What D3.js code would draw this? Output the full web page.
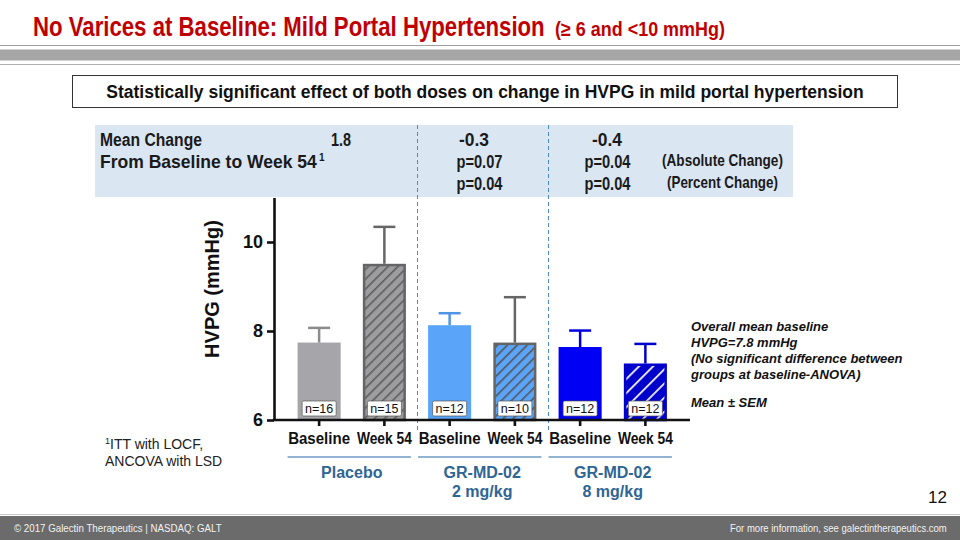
<!DOCTYPE html>
<html>
<head>
<meta charset="utf-8">
<script src="https://cdn.jsdelivr.net/npm/d3@7"></script>
<style>
  html, body { margin: 0; padding: 0; background: #fff; }
  svg { display: block; }
</style>
</head>
<body>
<svg id="chart" width="960" height="540"></svg>
<script>
// ---------------- DATA ----------------
const barIds      = ["pb", "pw", "2b", "2w", "8b", "8w"];
const barLabels   = ["Baseline", "Week 54", "Baseline", "Week 54", "Baseline", "Week 54"];
const barMeans    = [7.74, 9.51, 8.13, 7.74, 7.64, 7.27];
const barSems     = [0.33, 0.83, 0.27, 1.02, 0.37, 0.44];
const barN        = [16, 15, 12, 10, 12, 12];
const groupNames  = [["Placebo"], ["GR-MD-02", "2 mg/kg"], ["GR-MD-02", "8 mg/kg"]];
const yTickValues = [6, 8, 10];
const meanChange  = ["1.8", "-0.3", "-0.4"];
const pAbsolute   = ["", "p=0.07", "p=0.04"];
const pPercent    = ["", "p=0.04", "p=0.04"];
const notes       = ["Overall mean baseline", "HVPG=7.8 mmHg", "(No significant difference between", "groups at baseline-ANOVA)"];

// ---------------- STYLES ----------------
const barStyles = [
  { fill: "#a6a6aa", stroke: "none", err: "#8c8c8c" },
  { fill: "url(#hatchGray)", stroke: "#656565", err: "#666666" },
  { fill: "#5aa5fa", stroke: "none", err: "#4f95e6" },
  { fill: "url(#hatchLightBlue)", stroke: "#656565", err: "#666666" },
  { fill: "#0000f5", stroke: "none", err: "#0000e0" },
  { fill: "url(#hatchBlue)", stroke: "#0000cc", err: "#0000cc" }
];
const arial = "'Liberation Sans', Arial, Helvetica, sans-serif";

const svg = d3.select("#chart");
const defs = svg.append("defs");

// condensed text: draw at (x,y) then squeeze horizontally to width w
function ctext(parent, x, y, str, w, style, anchor) {
  const t = parent.append("text").attr("x", 0).attr("y", 0).attr("text-anchor", "start")
    .call(style).text(str);
  const n = t.node().getComputedTextLength();
  const s = w / n;
  let x0 = x;
  if (anchor === "middle") x0 = x - w / 2;
  if (anchor === "end") x0 = x - w;
  t.attr("transform", `translate(${x0},${y}) scale(${s},1)`);
  return t;
}

function hatch(id, bg, fg, spacing, w) {
  const p = defs.append("pattern").attr("id", id)
    .attr("patternUnits", "userSpaceOnUse")
    .attr("width", spacing).attr("height", spacing)
    .attr("patternTransform", "rotate(45)");
  p.append("rect").attr("width", spacing).attr("height", spacing).attr("fill", bg);
  p.append("line").attr("x1", 0).attr("y1", 0).attr("x2", 0).attr("y2", spacing)
    .attr("stroke", fg).attr("stroke-width", w);
}
hatch("hatchGray", "#9d9da0", "#5e5e5e", 7, 3.2);
hatch("hatchLightBlue", "#5aa5fa", "#555555", 7, 3.2);
hatch("hatchBlue", "#0000cc", "#ffffff", 10, 3.4);

// ---------------- HEADER ----------------
const titleStyle = fs => sel => sel.attr("font-family", arial).attr("font-weight", "bold")
  .attr("font-size", fs).attr("fill", "#c00000");
ctext(svg, 33, 36, "No Varices at Baseline: Mild Portal Hypertension", 512, titleStyle(28));
ctext(svg, 555, 36, "(\u2265 6 and <10 mmHg)", 170, titleStyle(20));

svg.append("line").attr("x1", 0).attr("x2", 960).attr("y1", 45.5).attr("y2", 45.5)
  .attr("stroke", "#a0a0a0").attr("stroke-width", 1);
svg.append("rect").attr("x", 0).attr("y", 49.5).attr("width", 960).attr("height", 11)
  .attr("fill", "#a6a6a6");
svg.append("line").attr("x1", 0).attr("x2", 960).attr("y1", 64.5).attr("y2", 64.5)
  .attr("stroke", "#b0b0b0").attr("stroke-width", 1);

// boxed subtitle
svg.append("rect").attr("x", 72.5).attr("y", 75.5).attr("width", 825).attr("height", 32)
  .attr("fill", "#fff").attr("stroke", "#333").attr("stroke-width", 1);
svg.append("text").attr("x", 485).attr("y", 97.5).attr("text-anchor", "middle")
  .attr("font-family", arial).attr("font-weight", "bold").attr("font-size", 17.5)
  .attr("fill", "#111")
  .text("Statistically significant effect of both doses on change in HVPG in mild portal hypertension");

// ---------------- SCALES ----------------
const y = d3.scaleLinear().domain([6, 11]).range([420, 197.5]);
const x = d3.scaleBand().domain(barIds).range([286.5, 678]).paddingInner(0.34).paddingOuter(0.17);
const bw = x.bandwidth();
const cx = id => x(id) + bw / 2;

// stats box
svg.append("rect").attr("x", 95).attr("y", 125).attr("width", 698).attr("height", 72)
  .attr("fill", "#dae6f2");
const statFont = fs => sel => sel.attr("font-family", arial).attr("font-weight", "bold")
  .attr("font-size", fs).attr("fill", "#1a1a1a");
ctext(svg, 100, 146, "Mean Change", 102, statFont(18));
ctext(svg, 100, 168, "From Baseline to Week 54", 217, statFont(18));
svg.append("text").attr("x", 319).attr("y", 161).call(statFont(10)).text("1");

const statX = [341, 474, 607];
const pX = [0, 479.5, 607.5];
const widthOf = s => s.length <= 3 ? 20 : s.length === 4 ? 30 : 46;
meanChange.forEach((v, i) => ctext(svg, statX[i], 146, v, widthOf(v), statFont(18), "middle"));
pAbsolute.forEach((v, i) => { if (v) ctext(svg, pX[i], 168, v, 46, statFont(18), "middle"); });
pPercent.forEach((v, i) => { if (v) ctext(svg, pX[i], 190, v, 46, statFont(18), "middle"); });
ctext(svg, 662, 166, "(Absolute Change)", 121, statFont(16));
ctext(svg, 667, 188, "(Percent Change)", 111, statFont(16));

// dashed group separators
[[1, 2], [3, 4]].forEach(([a, b]) => {
  const xm = Math.round((x(barIds[a]) + bw + x(barIds[b])) / 2) + 0.5;
  svg.append("line").attr("x1", xm).attr("x2", xm).attr("y1", 125).attr("y2", 430)
    .attr("stroke", "#4a8cc8").attr("stroke-width", 1).attr("stroke-dasharray", "4,3");
});

// ---------------- BARS ----------------
const g = svg.append("g");
barIds.forEach((id, i) => {
  const st = barStyles[i];
  const inset = st.stroke === "none" ? 0 : 1.25;
  g.append("rect")
    .attr("x", x(id) + inset).attr("width", bw - 2 * inset)
    .attr("y", y(barMeans[i]) + inset).attr("height", y(6) - y(barMeans[i]) - inset)
    .attr("fill", st.fill)
    .attr("stroke", st.stroke).attr("stroke-width", st.stroke === "none" ? 0 : 2.5);
  const top = y(barMeans[i] + barSems[i]);
  g.append("line").attr("x1", cx(id)).attr("x2", cx(id))
    .attr("y1", y(barMeans[i])).attr("y2", top)
    .attr("stroke", st.err).attr("stroke-width", 2.5);
  g.append("line").attr("x1", cx(id) - 11).attr("x2", cx(id) + 11)
    .attr("y1", top).attr("y2", top)
    .attr("stroke", st.err).attr("stroke-width", 2.5);
  g.append("rect").attr("x", cx(id) - 17).attr("y", 401).attr("width", 34).attr("height", 15)
    .attr("rx", 1.5).attr("fill", "#fff").attr("stroke", "#555").attr("stroke-width", 0.7);
  g.append("text").attr("x", cx(id)).attr("y", 413).attr("text-anchor", "middle")
    .attr("font-family", arial).attr("font-size", 12.5).attr("fill", "#111")
    .text("n=" + barN[i]);
});

// ---------------- AXES ----------------
const yAxis = svg.append("g").attr("transform", "translate(274,0)")
  .call(d3.axisLeft(y).tickValues(yTickValues).tickSize(7).tickSizeOuter(0).tickPadding(4).tickFormat(d3.format("d")));
yAxis.selectAll("path, line").attr("stroke", "#111").attr("stroke-width", 2.6);
yAxis.selectAll("text").attr("font-family", arial).attr("font-weight", "bold")
  .attr("font-size", 18).attr("fill", "#111");

const xAxis = svg.append("g").attr("transform", "translate(0,420)")
  .call(d3.axisBottom(x).tickSize(6).tickSizeOuter(0).tickFormat(() => ""));
xAxis.select(".domain").remove();
xAxis.selectAll("text").remove();
xAxis.selectAll("line").attr("stroke", "#111").attr("stroke-width", 2.6);
xAxis.selectAll(".tick").each(function(d, i) {
  ctext(d3.select(this), 0, 24, barLabels[i], barLabels[i] === "Baseline" ? 62 : 55,
    sel => sel.attr("font-family", arial).attr("font-weight", "bold").attr("font-size", 17).attr("fill", "#111"),
    "middle");
});
svg.append("line").attr("x1", 272.7).attr("x2", 690).attr("y1", 420).attr("y2", 420)
  .attr("stroke", "#111").attr("stroke-width", 2.6);

svg.append("text").attr("transform", "translate(219,289) rotate(-90)")
  .attr("text-anchor", "middle").attr("font-family", arial).attr("font-weight", "bold")
  .attr("font-size", 20).attr("fill", "#111").text("HVPG (mmHg)");

// group lines and labels
groupNames.forEach((lines, i) => {
  const a = x(barIds[2 * i]), b = x(barIds[2 * i + 1]) + bw;
  svg.append("line").attr("x1", a - 10).attr("x2", b + 5).attr("y1", 457).attr("y2", 457)
    .attr("stroke", "#6d9bc3").attr("stroke-width", 1.6);
  lines.forEach((t, k) => {
    svg.append("text").attr("x", (a + b) / 2).attr("y", 478 + k * 19).attr("text-anchor", "middle")
      .attr("font-family", arial).attr("font-weight", "bold").attr("font-size", 16)
      .attr("fill", "#2f6594").text(t);
  });
});

// footnote
const fn = svg.append("text").attr("x", 105).attr("y", 449)
  .attr("font-family", arial).attr("font-size", 14).attr("fill", "#222");
fn.append("tspan").attr("font-size", 9).attr("dy", -5).text("1");
fn.append("tspan").attr("dy", 5).text("ITT with LOCF,");
svg.append("text").attr("x", 105).attr("y", 466).attr("font-family", arial)
  .attr("font-size", 14).attr("fill", "#222").text("ANCOVA with LSD");

// annotation
notes.forEach((t, i) => {
  svg.append("text").attr("x", 691).attr("y", 331 + i * 16)
    .attr("font-family", arial).attr("font-weight", "bold").attr("font-style", "italic")
    .attr("font-size", 13).attr("fill", "#111").text(t);
});
svg.append("text").attr("x", 691).attr("y", 407)
  .attr("font-family", arial).attr("font-weight", "bold").attr("font-style", "italic")
  .attr("font-size", 13).attr("fill", "#111").text("Mean \u00b1 SEM");

// page number
svg.append("text").attr("x", 947).attr("y", 503).attr("text-anchor", "end")
  .attr("font-family", arial).attr("font-size", 17).attr("fill", "#111").text("12");

// footer
svg.append("line").attr("x1", 0).attr("x2", 960).attr("y1", 514.5).attr("y2", 514.5)
  .attr("stroke", "#c8c8c8").attr("stroke-width", 1);
svg.append("rect").attr("x", 0).attr("y", 516).attr("width", 960).attr("height", 24)
  .attr("fill", "#6b6b6b");
const footStyle = sel => sel.attr("font-family", arial).attr("font-size", 11.5).attr("fill", "#f2f2f2");
ctext(svg, 14, 531.5, "\u00a9  2017 Galectin Therapeutics | NASDAQ: GALT", 208, footStyle);
ctext(svg, 947, 531.5, "For more information, see galectintherapeutics.com", 217, footStyle, "end");
</script>
</body>
</html>
